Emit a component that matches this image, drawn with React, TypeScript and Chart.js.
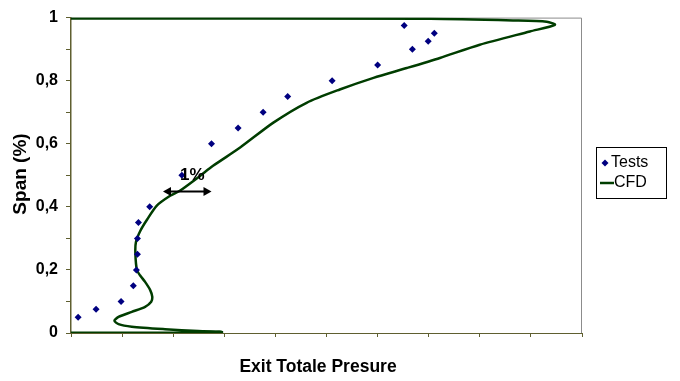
import React, { useEffect, useRef } from "react";
import { Chart, registerables } from "chart.js";

Chart.register(...registerables);

// Test measurements: span fraction and exit total pressure (x in % units)
const testSpan = [0.05, 0.075, 0.1, 0.15, 0.2, 0.25, 0.3, 0.35, 0.4, 0.5, 0.6, 0.65, 0.7, 0.75, 0.8, 0.85, 0.9, 0.925, 0.95, 0.975];
const testPressure = [0.14, 0.49, 0.98, 1.22, 1.28, 1.3, 1.3, 1.32, 1.54, 2.17, 2.75, 3.27, 3.76, 4.24, 5.11, 6.0, 6.68, 6.99, 7.11, 6.52];

// CFD profile (ordered along the curve from hub to tip)
const cfdPressure = [0, 1.5, 2.95, 2.49, 1.84, 1.19, 0.93, 0.85, 0.93, 1.19, 1.45, 1.57, 1.59, 1.55, 1.45, 1.35, 1.29, 1.26, 1.27, 1.36, 1.49, 1.68, 1.94, 2.13, 2.5, 2.78, 3.31, 3.96, 4.61, 5.26, 5.92, 6.57, 7.22, 8.0, 8.98, 9.47, 9.31, 8.65, 7.03, 0];
const cfdSpan = [0.001, 0.001, 0.003, 0.006, 0.012, 0.02, 0.028, 0.039, 0.051, 0.067, 0.083, 0.099, 0.115, 0.136, 0.162, 0.183, 0.2, 0.251, 0.288, 0.325, 0.36, 0.404, 0.435, 0.451, 0.495, 0.53, 0.588, 0.667, 0.73, 0.772, 0.809, 0.84, 0.872, 0.914, 0.956, 0.977, 0.987, 0.991, 0.996, 0.997];

const yTickValues = [0, 0.2, 0.4, 0.6, 0.8, 1];
const yTickLabels = ["0", "0,2", "0,4", "0,6", "0,8", "1"];

const seriesNames = ["Tests", "CFD"];
const xTitle = "Exit Totale Presure";
const yTitle = "Span (%)";

// "1%" annotation: arrow from/to (x units) at a span
const arrowFrom = 1.8;
const arrowTo = 2.75;
const arrowSpan = 0.45;
const arrowLabel = "1%";

const GREEN = "#003d00";
const NAVY = "#000080";
const AXIS = "#5f5f30";
const FONT = "'Liberation Sans', Arial, sans-serif";

export default function App() {
  const ref = useRef<HTMLCanvasElement | null>(null);

  useEffect(() => {
    if (!ref.current) return;

    const decor = {
      id: "decor",
      beforeDatasetsDraw(chart: any) {
        const { ctx, chartArea: a } = chart;
        ctx.save();
        ctx.strokeStyle = "#8c8c8c";
        ctx.lineWidth = 1;
        ctx.beginPath();
        ctx.moveTo(a.left, a.top + 0.5);
        ctx.lineTo(a.right - 0.5, a.top + 0.5);
        ctx.lineTo(a.right - 0.5, a.bottom);
        ctx.stroke();
        ctx.restore();
      },
      afterDatasetsDraw(chart: any) {
        const { ctx, scales } = chart;
        const xs = scales.x;
        const ys = scales.y;
        ctx.save();
        // arrow
        const x1 = xs.getPixelForValue(arrowFrom);
        const x2 = xs.getPixelForValue(arrowTo);
        const y = Math.round(ys.getPixelForValue(arrowSpan)) + 0.5;
        ctx.strokeStyle = "#000";
        ctx.fillStyle = "#000";
        ctx.lineWidth = 2;
        ctx.beginPath();
        ctx.moveTo(x1 + 4, y);
        ctx.lineTo(x2 - 4, y);
        ctx.stroke();
        const head = (tipX: number, dir: number) => {
          ctx.beginPath();
          ctx.moveTo(tipX, y);
          ctx.lineTo(tipX - dir * 8, y - 4.5);
          ctx.lineTo(tipX - dir * 8, y + 4.5);
          ctx.closePath();
          ctx.fill();
        };
        head(x1, -1);
        head(x2, 1);
        ctx.font = `bold 17px ${FONT}`;
        ctx.textAlign = "center";
        ctx.textBaseline = "middle";
        ctx.fillText(arrowLabel, (x1 + x2) / 2 + 5, y - 16);

        // axis titles
        ctx.font = `bold 17.5px ${FONT}`;
        ctx.fillText(xTitle, 318, 367);
        ctx.save();
        ctx.translate(21, 174);
        ctx.rotate(-Math.PI / 2);
        ctx.font = `bold 19px ${FONT}`;
        ctx.fillText(yTitle, 0, 0);
        ctx.restore();

        // legend
        ctx.strokeStyle = "#000";
        ctx.lineWidth = 1;
        ctx.strokeRect(596.5, 147.5, 70, 51);
        ctx.fillStyle = NAVY;
        ctx.beginPath();
        ctx.moveTo(605, 159.5);
        ctx.lineTo(608.5, 163);
        ctx.lineTo(605, 166.5);
        ctx.lineTo(601.5, 163);
        ctx.closePath();
        ctx.fill();
        ctx.strokeStyle = GREEN;
        ctx.lineWidth = 2.5;
        ctx.beginPath();
        ctx.moveTo(600, 183);
        ctx.lineTo(614, 183);
        ctx.stroke();
        ctx.fillStyle = "#000";
        ctx.font = `16px ${FONT}`;
        ctx.textAlign = "left";
        ctx.fillText(seriesNames[0], 611, 163);
        ctx.fillText(seriesNames[1], 614, 183);
        ctx.restore();
      },
    };

    const chart = new Chart(ref.current, {
      type: "scatter",
      data: {
        datasets: [
          {
            label: seriesNames[0],
            data: testPressure.map((x, i) => ({ x, y: testSpan[i] })),
            pointStyle: "rectRot",
            pointRadius: 3.5,
            backgroundColor: NAVY,
            borderColor: NAVY,
            borderWidth: 0,
            showLine: false,
          },
          {
            label: seriesNames[1],
            data: cfdPressure.map((x, i) => ({ x, y: cfdSpan[i] })),
            showLine: true,
            pointRadius: 0,
            borderColor: GREEN,
            borderWidth: 2.5,
            tension: 0.25,
            fill: false,
          },
        ],
      },
      options: {
        animation: false,
        responsive: true,
        maintainAspectRatio: false,
        layout: { padding: { top: 16, right: 98, left: 0, bottom: 0 } },
        plugins: { legend: { display: false }, tooltip: { enabled: false } },
        scales: {
          x: {
            type: "linear",
            min: 0,
            max: 10,
            afterFit: (s: any) => {
              s.height = 48;
            },
            ticks: { stepSize: 1, callback: () => "", padding: 0 },
            grid: { drawOnChartArea: false, color: AXIS, tickLength: 4 },
            border: { color: AXIS, width: 1 },
          },
          y: {
            type: "linear",
            min: 0,
            max: 1,
            afterFit: (s: any) => {
              s.width = 71;
            },
            ticks: {
              stepSize: 0.1,
              padding: 8,
              color: "#000",
              font: { family: FONT, size: 16, weight: "bold" },
              callback: (v: any) => {
                const idx = yTickValues.findIndex((t) => Math.abs(t - Number(v)) < 1e-6);
                return idx >= 0 ? yTickLabels[idx] : "";
              },
            },
            grid: { drawOnChartArea: false, color: AXIS, tickLength: 5 },
            border: { color: AXIS, width: 1.5 },
          },
        },
      },
      plugins: [decor],
    });

    return () => chart.destroy();
  }, []);

  return (
    <div style={{ position: "fixed", left: 0, top: 0, width: 680, height: 381, background: "#fff" }}>
      <canvas ref={ref} />
    </div>
  );
}
